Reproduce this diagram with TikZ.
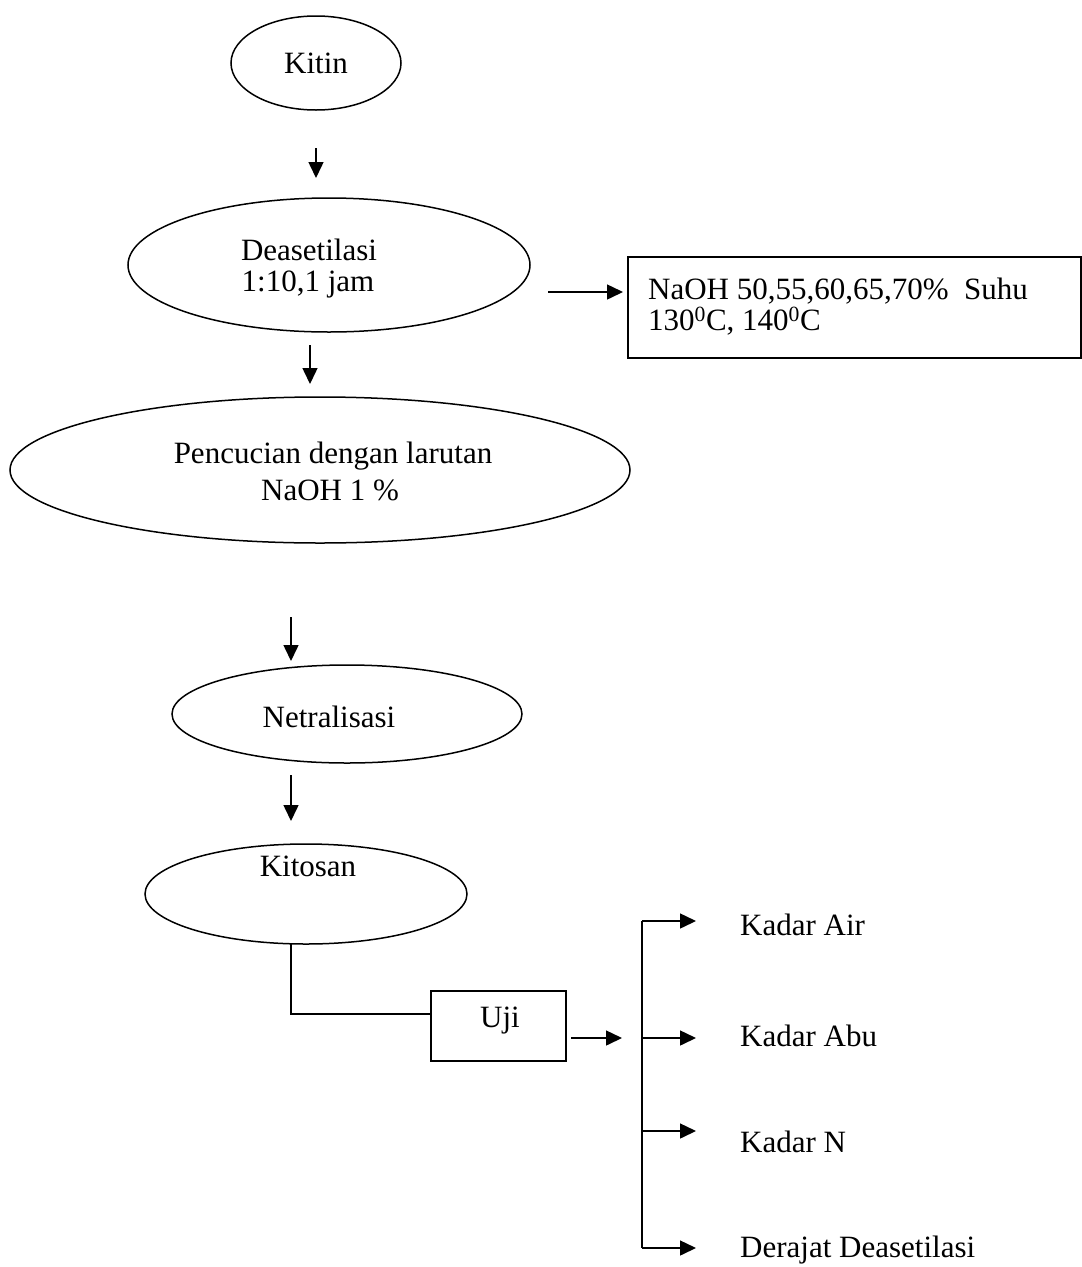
\documentclass[tikz,border=0pt]{standalone}
\usepackage{fontspec}
\setmainfont{Liberation Serif}
\usetikzlibrary{shapes.geometric,arrows.meta}
\begin{document}
\begin{tikzpicture}[x=1pt,y=-1pt,
  oval/.style={draw,ellipse,line width=1.5pt,inner sep=0pt},
  txt/.style={inner sep=0pt,font=\fontsize{31}{36}\selectfont},
  arr/.style={line width=1.5pt,-{Triangle[length=16pt,width=15pt]}},
  ln/.style={line width=1.5pt}]
\useasboundingbox (0,0) rectangle (1082,1267);
% ellipses
\node[oval,minimum width=170pt,minimum height=94pt] (kitin) at (316,63) {};
\node[oval,minimum width=402pt,minimum height=134pt] (deas) at (329,265) {};
\node[oval,minimum width=620pt,minimum height=146pt] (cuci) at (320,470) {};
\node[oval,minimum width=350pt,minimum height=98pt] (netral) at (347,714) {};
\node[oval,minimum width=322pt,minimum height=100pt] (kitosan) at (306,894) {};
% texts
\node[txt] (tkitin) at (316,63) {Kitin};
\node[txt] (tdeas1) at (309,250) {Deasetilasi};
\node[txt] (tdeas2) at (308,284) {1:10,1 jam};
\node[txt] (tcuci1) at (333,456) {Pencucian dengan larutan};
\node[txt] (tcuci2) at (330,490) {NaOH 1 \%};
\node[txt] (tnetral) at (329,717) {Netralisasi};
\node[txt] (tkitosan) at (308,866) {Kitosan};
% condition box
\draw[ln] (628,257) rectangle (1081,358);
\node[txt,anchor=west] (tbox1) at (648,291) {NaOH 50,55,60,65,70\%\ \ Suhu};
\node[txt,anchor=west] (tbox2) at (648,321) {130\textsuperscript{0}C, 140\textsuperscript{0}C};
% Uji box
\node[draw,line width=1.5pt,minimum width=135pt,minimum height=70pt,inner sep=0pt] (uji) at (498.5,1026) {};
\node[txt] (tuji) at (500,1021) {Uji};
% results
\node[txt,anchor=west] (air) at (740,925) {Kadar Air};
\node[txt,anchor=west] (abu) at (740,1036) {Kadar Abu};
\node[txt,anchor=west] (n) at (740,1142) {Kadar N};
\node[txt,anchor=west] (dd) at (740,1250) {Derajat Deasetilasi};
% coordinates for free arrow ends
\coordinate (a1s) at (316,148); \coordinate (a1e) at (316,178);
\coordinate (a2s) at (310,345); \coordinate (a2e) at (310,384);
\coordinate (a3s) at (291,617); \coordinate (a3e) at (291,661);
\coordinate (a4s) at (291,775); \coordinate (a4e) at (291,821);
\coordinate (a5s) at (548,292); \coordinate (a5e) at (623,292);
\coordinate (k1) at (291,944); \coordinate (k2) at (291,1014);
\coordinate (u1) at (571,1038); \coordinate (u2) at (622,1038);
\coordinate (b1) at (642,921); \coordinate (b2) at (642,1038);
\coordinate (b3) at (642,1131); \coordinate (b4) at (642,1248);
\draw[arr] (a1s) -- (a1e);
\draw[arr] (a2s) -- (a2e);
\draw[arr] (a3s) -- (a3e);
\draw[arr] (a4s) -- (a4e);
\draw[arr] (a5s) -- (a5e);
\draw[ln] (k1) -- (k2) -- (k2 -| uji.west);
\draw[arr] (u1) -- (u2);
\draw[ln] (b1) -- (b4);
\draw[arr] (b1) -- (b1 -| 696,0);
\draw[arr] (b2) -- (b2 -| 696,0);
\draw[arr] (b3) -- (b3 -| 696,0);
\draw[arr] (b4) -- (b4 -| 696,0);
\end{tikzpicture}
\end{document}
